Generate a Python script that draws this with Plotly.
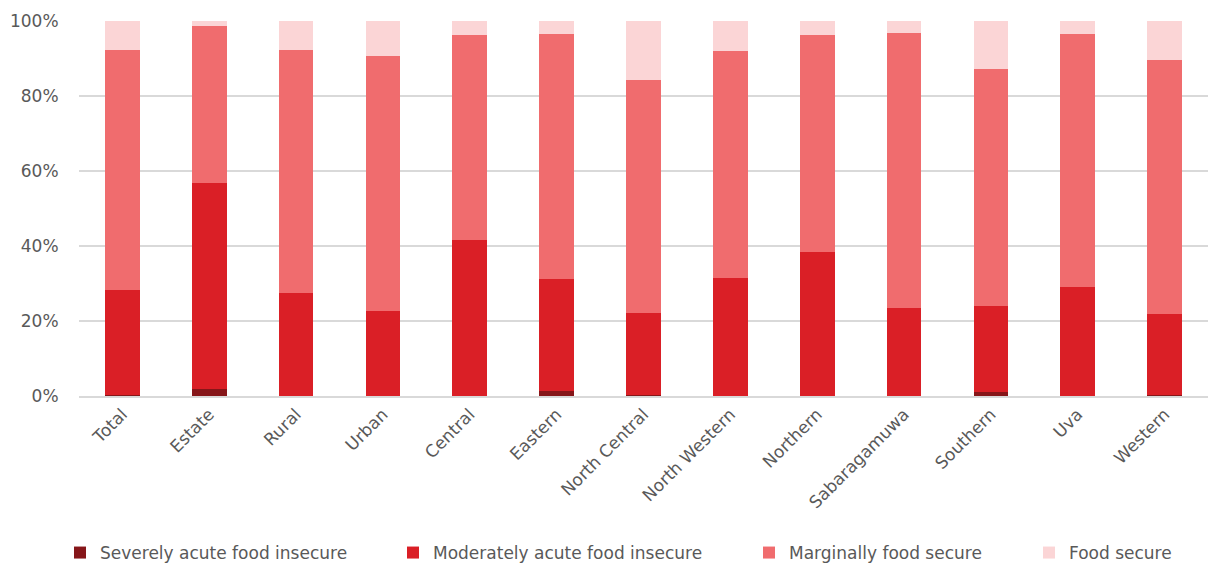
import plotly.graph_objects as go

categories = ["Total", "Estate", "Rural", "Urban", "Central", "Eastern", "North Central",
              "North Western", "Northern", "Sabaragamuwa", "Southern", "Uva", "Western"]

severe = [0.3, 2.0, 0.1, 0.1, 0.1, 1.3, 0.3, 0.1, 0.0, 0.1, 1.2, 0.0, 0.2]
moderate = [27.9, 54.8, 27.4, 22.6, 41.5, 29.9, 21.8, 31.4, 38.4, 23.4, 22.8, 29.1, 21.7]
marginal = [64.1, 41.9, 64.8, 68.0, 54.7, 65.4, 62.2, 60.6, 58.0, 73.4, 63.3, 67.5, 67.8]
secure = [round(100 - a - b - c, 1) for a, b, c in zip(severe, moderate, marginal)]

series = [
    ("Severely acute food insecure", severe, "#861619"),
    ("Moderately acute food insecure", moderate, "#DA1F26"),
    ("Marginally food secure", marginal, "#F06C6E"),
    ("Food secure", secure, "#FBD5D6"),
]
legend_x = [60, 393, 749, 1029]

fig = go.Figure()
for i, (name, vals, col) in enumerate(series):
    lg = "legend" if i == 0 else f"legend{i+1}"
    fig.add_trace(go.Bar(
        x=categories, y=vals, name=name, marker_color=col,
        marker_line_width=0, legend=lg,
    ))

font = dict(family="DejaVu Sans, Verdana, sans-serif", size=17, color="#595959")
layout_legends = {}
for i, px in enumerate(legend_x):
    key = "legend" if i == 0 else f"legend{i+1}"
    layout_legends[key] = dict(
        xref="container", yref="container", x=px / 1208, y=1 - 553 / 565,
        xanchor="left", yanchor="middle", bgcolor="rgba(0,0,0,0)",
        font=font, itemwidth=30, tracegroupgap=0,
    )

fig.update_layout(
    barmode="stack",
    bargap=0.6,
    width=1208, height=565,
    margin=dict(l=79, r=0, t=21, b=169, autoexpand=False),
    plot_bgcolor="white", paper_bgcolor="white",
    font=font,
    showlegend=True,
    xaxis=dict(tickangle=-45, showgrid=False, linecolor="#D9D9D9", linewidth=1.5,
               ticks="", tickfont=font),
    yaxis=dict(range=[0, 100], tickvals=[0, 20, 40, 60, 80, 100],
               ticktext=["0%", "20%", "40%", "60%", "80%", "100%"],
               gridcolor="#D9D9D9", gridwidth=1.5, zeroline=False, tickfont=font,
               ticklen=16, tickcolor="white", ticks="outside"),
    **layout_legends,
)

fig.write_html("out.html", config={"displayModeBar": False},
               post_script="document.body.style.margin='0';")
